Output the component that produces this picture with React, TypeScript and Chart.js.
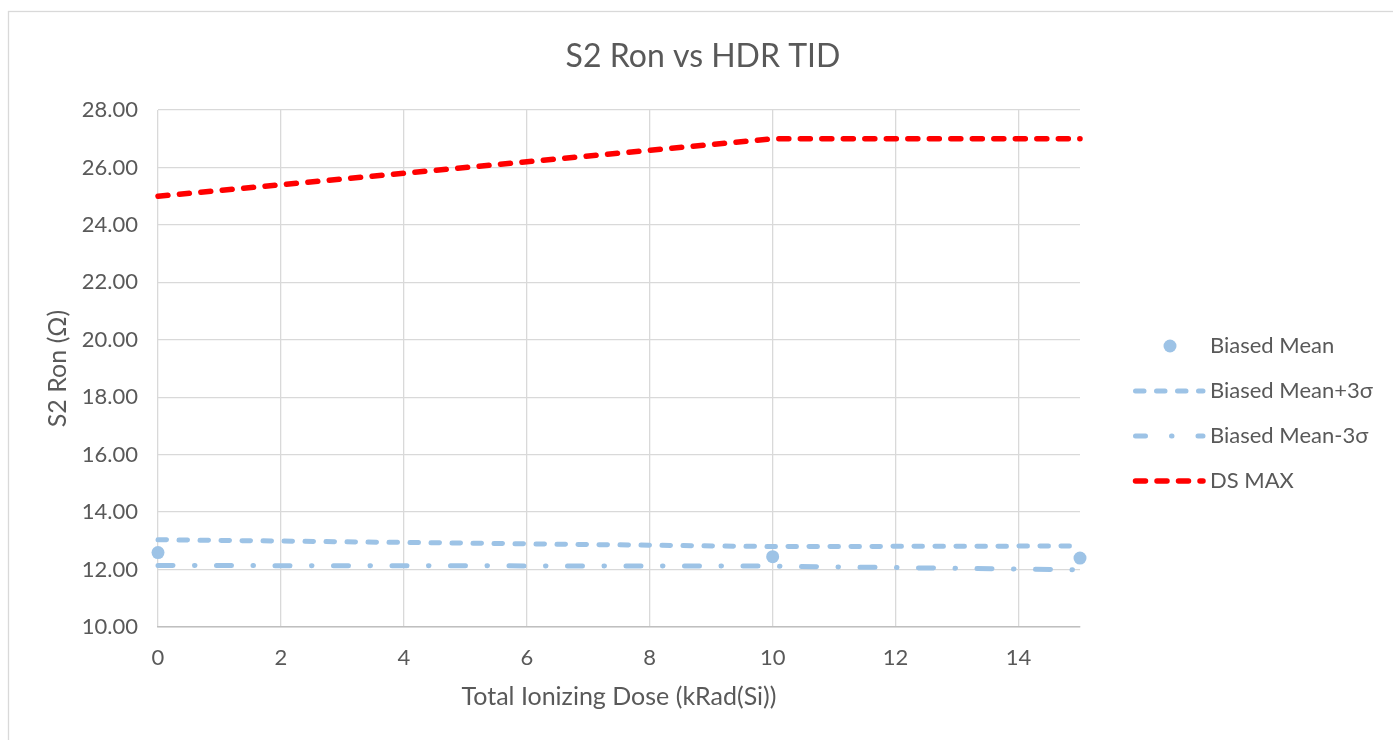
import React, { useEffect, useRef } from 'react';
import { Chart, registerables } from 'chart.js';

Chart.register(...registerables);

// ---- data ----
const chartTitle = 'S2 Ron vs HDR TID';
const xAxisTitle = 'Total Ionizing Dose (kRad(Si))';
const yAxisTitle = 'S2 Ron (Ω)';
const doseValues = [0, 10, 15];
const biasedMean = [12.59, 12.45, 12.4];
const biasedMeanPlus3s = [13.04, 12.8, 12.82];
const biasedMeanMinus3s = [12.14, 12.12, 11.99];
const dsMaxDose = [0, 10, 15];
const dsMax = [25.0, 27.0, 27.0];
const seriesNames = ['Biased Mean', 'Biased Mean+3σ', 'Biased Mean-3σ', 'DS MAX'];
const yMin = 10;
const yMax = 28;
const yStep = 2;
const xMin = 0;
const xMax = 15;
const xStep = 2;

const FONT = 'Lato, "Open Sans", sans-serif';
const TEXT = '#595959';
const BLUE = '#9DC3E6';
const RED = '#FF0000';

const toPoints = (xs: number[], ys: number[]) => xs.map((x, i) => ({ x, y: ys[i] }));

const decorPlugin = {
  id: 'decor',
  beforeDraw(chart: any) {
    const ctx = chart.ctx;
    ctx.save();
    ctx.fillStyle = '#ffffff';
    ctx.fillRect(0, 0, chart.width, chart.height);
    ctx.strokeStyle = '#d9d9d9';
    ctx.lineWidth = 1.3;
    ctx.strokeRect(8.5, 11.5, 2000, 2000);
    ctx.restore();
  },
  afterDraw(chart: any) {
    const ctx = chart.ctx;
    ctx.save();
    // title
    ctx.fillStyle = TEXT;
    ctx.font = `32px ${FONT}`;
    ctx.textAlign = 'center';
    ctx.textBaseline = 'middle';
    ctx.fillText(chartTitle, 703, 57);
    // legend
    const baseY = 346;
    const stepY = 45;
    chart.data.datasets.forEach((ds: any, i: number) => {
      const y = baseY + i * stepY;
      ctx.save();
      if (!ds.showLine) {
        ctx.fillStyle = ds.backgroundColor;
        ctx.beginPath();
        ctx.arc(1170, y, 6.5, 0, Math.PI * 2);
        ctx.fill();
      } else {
        ctx.strokeStyle = ds.borderColor;
        ctx.lineWidth = ds.borderWidth;
        ctx.lineCap = 'round';
        ctx.setLineDash(ds.legendDash || ds.borderDash || []);
        ctx.beginPath();
        ctx.moveTo(1135.5, y);
        ctx.lineTo(1203, y);
        ctx.stroke();
      }
      ctx.restore();
      ctx.fillStyle = TEXT;
      ctx.font = `22px ${FONT}`;
      ctx.textAlign = 'left';
      ctx.textBaseline = 'middle';
      ctx.fillText(ds.label, 1210, y);
    });
    ctx.restore();
  },
};

export default function App() {
  const canvasRef = useRef<HTMLCanvasElement | null>(null);

  useEffect(() => {
    const canvas = canvasRef.current;
    if (!canvas) return;
    const chart = new Chart(canvas, {
      type: 'scatter',
      data: {
        datasets: [
          {
            label: seriesNames[0],
            data: toPoints(doseValues, biasedMean),
            showLine: false,
            backgroundColor: BLUE,
            borderColor: BLUE,
            pointRadius: 6.5,
            pointBorderWidth: 0,
            clip: false,
          } as any,
          {
            label: seriesNames[1],
            data: toPoints(doseValues, biasedMeanPlus3s),
            showLine: true,
            borderColor: BLUE,
            backgroundColor: BLUE,
            borderWidth: 5,
            borderDash: [8.5, 12.5],
            borderCapStyle: 'round',
            pointRadius: 0,
            tension: 0,
            clip: false,
          } as any,
          {
            label: seriesNames[2],
            data: toPoints(doseValues, biasedMeanMinus3s),
            showLine: true,
            borderColor: BLUE,
            backgroundColor: BLUE,
            borderWidth: 5,
            borderDash: [15, 21.5, 0.5, 21.5],
            legendDash: [10, 26, 0.5, 26],
            borderCapStyle: 'round',
            pointRadius: 0,
            tension: 0,
            clip: false,
          } as any,
          {
            label: seriesNames[3],
            data: toPoints(dsMaxDose, dsMax),
            showLine: true,
            borderColor: RED,
            backgroundColor: RED,
            borderWidth: 5.5,
            borderDash: [10, 11.5],
            borderCapStyle: 'round',
            pointRadius: 0,
            tension: 0,
            clip: false,
          } as any,
        ],
      },
      options: {
        animation: false,
        responsive: false,
        maintainAspectRatio: false,
        layout: { padding: { left: 0, top: 110, right: 313, bottom: 0 } },
        plugins: {
          legend: { display: false },
          title: { display: false },
          tooltip: { enabled: false },
        },
        scales: {
          x: {
            type: 'linear',
            min: xMin,
            max: xMax,
            ticks: {
              stepSize: xStep,
              includeBounds: false,
              color: TEXT,
              font: { family: FONT, size: 22 },
              padding: 18,
              maxRotation: 0,
            },
            grid: { color: '#d9d9d9', lineWidth: 1.3, drawTicks: false },
            border: { display: true, color: '#bfbfbf', width: 1.5 },
            title: {
              display: true,
              text: xAxisTitle,
              color: TEXT,
              font: { family: FONT, size: 25 },
              padding: { top: 0, bottom: 28 },
            },
            afterFit: (s: any) => {
              s.height = 113;
            },
          },
          y: {
            type: 'linear',
            min: yMin,
            max: yMax,
            ticks: {
              stepSize: yStep,
              color: TEXT,
              font: { family: FONT, size: 22 },
              padding: 20,
              callback: (v: any) => Number(v).toFixed(2),
            },
            grid: { color: '#d9d9d9', lineWidth: 1.3, drawTicks: false },
            border: { display: false },
            title: {
              display: true,
              text: yAxisTitle,
              color: TEXT,
              font: { family: FONT, size: 25 },
              padding: { top: 43, bottom: 0 },
            },
            afterFit: (s: any) => {
              s.width = 158;
            },
          },
        },
      },
      plugins: [decorPlugin],
    });
    return () => chart.destroy();
  }, []);

  return (
    <div style={{ position: 'fixed', left: 0, top: 0, width: 1393, height: 740, background: '#fff' }}>
      <canvas ref={canvasRef} width={1393} height={740} style={{ display: 'block', width: 1393, height: 740 }} />
    </div>
  );
}
